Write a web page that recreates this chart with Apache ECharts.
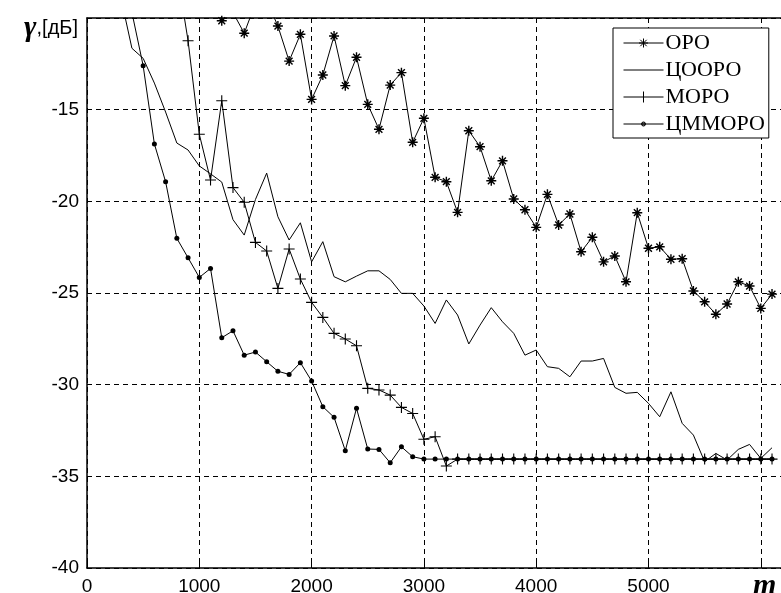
<!DOCTYPE html>
<html>
<head>
<meta charset="utf-8">
<script src="https://cdn.jsdelivr.net/npm/echarts/dist/echarts.min.js"></script>
<style>
html,body{margin:0;padding:0;background:#fff;}
#chart{width:781px;height:593px;}
</style>
</head>
<body>
<div id="chart"></div>
<script>
// sample positions m
const mValues = [100,200,300,400,500,600,700,800,900,1000,
  1100,1200,1300,1400,1500,1600,1700,1800,1900,2000,
  2100,2200,2300,2400,2500,2600,2700,2800,2900,3000,
  3100,3200,3300,3400,3500,3600,3700,3800,3900,4000,
  4100,4200,4300,4400,4500,4600,4700,4800,4900,5000,
  5100,5200,5300,5400,5500,5600,5700,5800,5900,6000,6100];

// ОРО
const oro = [null,null,null,null,null,null,null,null,null,null,
  -8.5,-10.15,-9.7,-10.83,-9.2,-9.05,-10.44,-12.35,-10.89,-14.44,
  -13.11,-10.98,-13.69,-12.14,-14.71,-16.07,-13.66,-12.98,-16.78,-15.47,
  -18.69,-18.93,-20.6,-16.15,-17.02,-18.88,-17.79,-19.87,-20.46,-21.42,
  -19.62,-21.29,-20.69,-22.75,-21.96,-23.3,-22.98,-24.39,-20.62,-22.56,
  -22.48,-23.16,-23.13,-24.89,-25.48,-26.16,-25.6,-24.39,-24.62,-25.84,
  -25.06];

// ЦООРО
const cooro = [null,null,-8.85,-11.65,-12.2,-13.55,-15.13,-16.82,-17.2,-18.07,
  -18.5,-18.95,-21.0,-21.84,-19.9,-18.46,-20.84,-22.11,-21.17,-23.3,
  -22.2,-24.11,-24.39,-24.08,-23.79,-23.79,-24.26,-25.02,-25.02,-25.71,
  -26.66,-25.38,-26.2,-27.78,-26.75,-25.8,-26.57,-27.2,-28.39,-28.11,
  -29.02,-29.11,-29.57,-28.71,-28.71,-28.57,-30.15,-30.47,-30.42,-31.02,
  -31.75,-30.39,-32.11,-32.75,-34.2,-33.75,-34.11,-33.53,-33.26,-34.02,
  -33.44];

// МОРО
const moro = [null,null,null,null,null,null,null,-7.4,-11.24,-16.34,
  -18.84,-14.51,-19.25,-20.05,-22.24,-22.71,-24.75,-22.6,-24.24,-25.51,
  -26.33,-27.2,-27.51,-27.88,-30.2,-30.29,-30.57,-31.24,-31.57,-32.98,
  -32.84,-34.44,-34.06,-34.06,-34.06,-34.06,-34.06,-34.06,-34.06,-34.06,
  -34.06,-34.06,-34.06,-34.06,-34.06,-34.06,-34.06,-34.06,-34.06,-34.06,
  -34.06,-34.06,-34.06,-34.06,-34.06,-34.06,-34.06,-34.06,-34.06,-34.06,
  -34.06];

// ЦММОРО
const cmmoro = [null,null,null,-9.7,-12.6,-16.87,-18.93,-22.02,-23.08,-24.15,
  -23.66,-27.44,-27.06,-28.39,-28.22,-28.75,-29.27,-29.44,-28.8,-29.8,
  -31.2,-31.78,-33.6,-31.29,-33.51,-33.53,-34.26,-33.39,-33.93,-34.06,
  -34.06,-34.06,-34.06,-34.06,-34.06,-34.06,-34.06,-34.06,-34.06,-34.06,
  -34.06,-34.06,-34.06,-34.06,-34.06,-34.06,-34.06,-34.06,-34.06,-34.06,
  -34.06,-34.06,-34.06,-34.06,-34.06,-34.06,-34.06,-34.06,-34.06,-34.06,
  -34.06];

const seriesNames = ['ОРО','ЦООРО','МОРО','ЦММОРО'];
const xTicks = [0,1000,2000,3000,4000,5000,6000];
const xTickLabels = ['0','1000','2000','3000','4000','5000','{m|m}'];
const yTicks = [-40,-35,-30,-25,-20,-15,-10];
const yTickLabels = ['-40','-35','-30','-25','-20','-15',''];
const yTitle = ['γ', ',[дБ]'];

const ASTER = 'path://M5,0L5,10M0,5L10,5M1.6,1.6L8.4,8.4M1.6,8.4L8.4,1.6';
const PLUS = 'path://M5,0L5,10M0,5L10,5';

// legend icons (line + marker), stroked
const ANCH = 'M0,0L0,0M0,12L0,12';
const legendIcons = [
  'path://M0,6L40,6M20,1.5L20,10.5M15.5,6L24.5,6M16.8,2.8L23.2,9.2M16.8,9.2L23.2,2.8' + ANCH,
  'path://M0,6L40,6' + ANCH,
  'path://M0,6L40,6M20,0.5L20,11.5' + ANCH,
  'path://M0,6L40,6M18,6a2,2 0 1,0 4,0a2,2 0 1,0 -4,0M19,6a1,1 0 1,0 2,0a1,1 0 1,0 -2,0' + ANCH
];

function pairs(arr){ return mValues.map((m,i)=>[m, arr[i]]); }

const chart = echarts.init(document.getElementById('chart'), null, {renderer:'canvas'});
const axisFont = {fontFamily:'Liberation Sans, Arial, sans-serif', fontSize:19, color:'#000'};
const dashed = {color:'#000', width:1, type:[5,4]};

function mkSeries(name, data, symbol, size, bw){
  return {
    name, type:'line', data: pairs(data),
    symbol, symbolSize:size, showSymbol: symbol !== 'none',
    clip:true, connectNulls:false,
    lineStyle:{color:'#000', width:1},
    itemStyle:{color:'#000', borderColor:'#000', borderWidth:bw},
    emphasis:{disabled:true},
    z:3
  };
}

chart.setOption({
  animation:false,
  backgroundColor:'#fff',
  grid:{left:87, right:0, top:18, bottom:25, containLabel:false, outerBoundsMode:'none', show:false},
  xAxis:[{
    type:'value', min:0, max:6180, interval:1000, position:'bottom',
    axisLine:{show:true, onZero:false, lineStyle:{color:'#000', width:1.5}},
    axisTick:{show:true, inside:true, length:5, lineStyle:{color:'#000'}},
    splitLine:{show:true, lineStyle:dashed},
    axisLabel:{
      ...axisFont, margin:9, showMaxLabel:true,
      formatter:function(v){ const i = xTicks.indexOf(v); return i>=0 ? xTickLabels[i] : ''; },
      rich:{m:{fontFamily:'Liberation Serif, Times New Roman, serif', fontWeight:'bold', fontStyle:'italic', fontSize:30, lineHeight:15, padding:[3,0,0,8], color:'#000'}}
    }
  },{
    type:'value', min:0, max:6180, interval:1000, position:'top',
    axisLine:{show:true, onZero:false, lineStyle:{color:'#000', width:1.5}},
    axisTick:{show:true, inside:true, length:5, lineStyle:{color:'#000'}},
    splitLine:{show:false}, axisLabel:{show:false}
  }],
  yAxis:{
    type:'value', min:-40, max:-10, interval:5,
    axisLine:{show:true, onZero:false, lineStyle:{color:'#000', width:1.5}},
    axisTick:{show:true, inside:true, length:5, lineStyle:{color:'#000'}},
    splitLine:{show:true, lineStyle:dashed},
    axisLabel:{
      ...axisFont, margin:8, showMaxLabel:false,
      formatter:function(v){ const i = yTicks.indexOf(v); return i>=0 ? yTickLabels[i] : ''; }
    }
  },
  legend:{
    show:true, orient:'vertical', left:613, top:28,
    padding:[4,4,3,10], itemGap:5, itemWidth:40, itemHeight:12,
    backgroundColor:'#fff', borderColor:'#000', borderWidth:1, borderRadius:0,
    selectedMode:false,
    textStyle:{fontFamily:'Liberation Serif, Times New Roman, serif', fontSize:22, lineHeight:22, color:'#000', padding:[0,0,0,-3]},
    data: seriesNames.map((n,i)=>({
      name:n, icon:legendIcons[i],
      itemStyle:{color:'transparent', borderColor:'#000', borderWidth:1}
    }))
  },
  graphic:[{
    type:'text', z:10,
    style:{
      x:78, y:28, align:'right', verticalAlign:'middle',
      text:'{g|'+yTitle[0]+'}{n|'+yTitle[1]+'}',
      rich:{
        g:{fontFamily:'Liberation Serif, Times New Roman, serif', fontWeight:'bold', fontStyle:'italic', fontSize:30, fill:'#000'},
        n:{fontFamily:'Liberation Sans, Arial, sans-serif', fontSize:20, fill:'#000'}
      }
    }
  }],
  series:[
    mkSeries(seriesNames[0], oro, ASTER, 10, 1.4),
    mkSeries(seriesNames[1], cooro, 'none', 0, 1),
    mkSeries(seriesNames[2], moro, PLUS, 11, 1.1),
    mkSeries(seriesNames[3], cmmoro, 'circle', 5, 0)
  ]
});
</script>
</body>
</html>
